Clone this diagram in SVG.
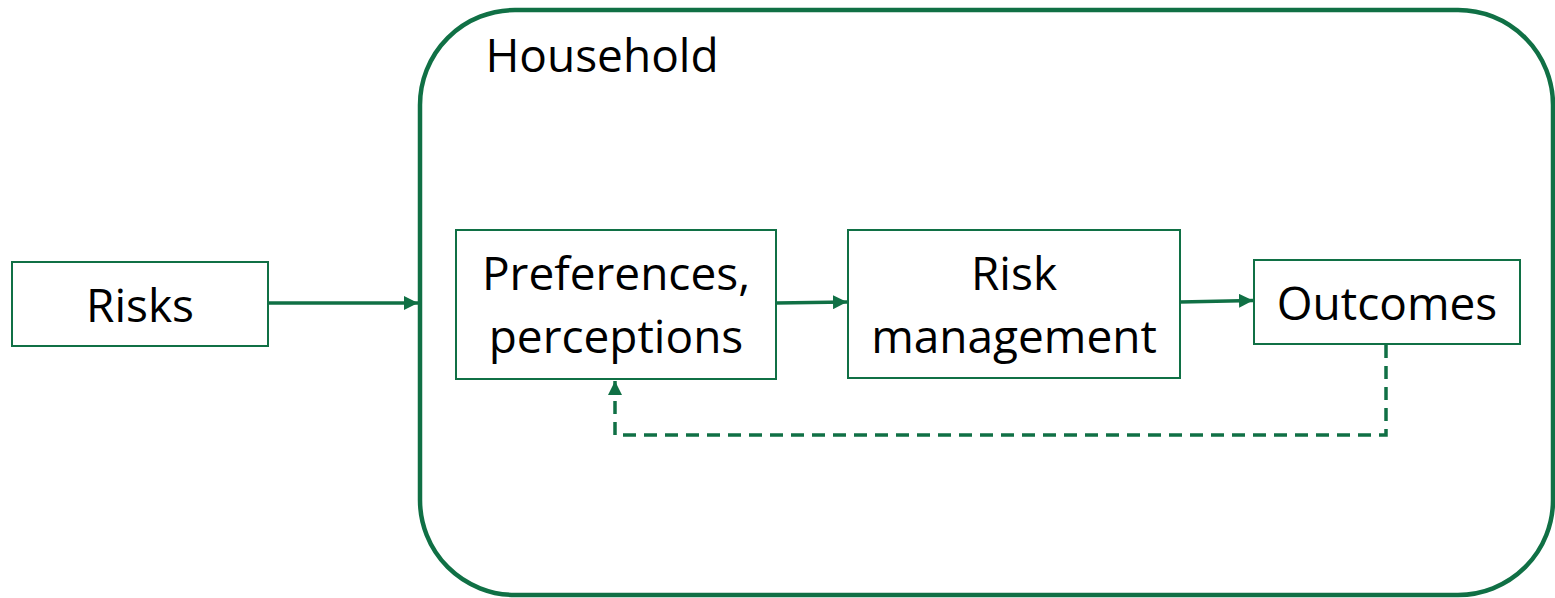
<svg xmlns="http://www.w3.org/2000/svg" width="1555" height="598" viewBox="0 0 1555 598">
  <style>
    .box { fill: #ffffff; stroke: #107045; stroke-width: 2; }
    .frame { fill: none; stroke: #107045; stroke-width: 4.5; }
    .edge { fill: none; stroke: #107045; stroke-width: 3.5; }
    .dash { fill: none; stroke: #107045; stroke-width: 3.5; stroke-dasharray: 13 8; }
    .label { font-family: "Open Sans", "Liberation Sans", sans-serif; font-size: 46px; fill: #000000; text-anchor: middle; }
  </style>
  <defs>
    <marker id="arrow" viewBox="0 0 10 10" refX="10" refY="5" markerWidth="14" markerHeight="14" markerUnits="userSpaceOnUse" orient="auto">
      <path d="M0,0 L10,5 L0,10 Z" fill="#107045"/>
    </marker>
  </defs>

  <!-- household frame -->
  <g id="household">
    <rect class="frame" x="420" y="10" width="1133" height="585" rx="95" ry="95"/>
    <text class="label" x="602" y="72">Household</text>
  </g>

  <g id="risks">
    <rect class="box" x="12" y="262" width="256" height="84"/>
    <text class="label" x="140" y="322">Risks</text>
  </g>

  <g id="preferences">
    <rect class="box" x="456" y="230" width="320" height="149"/>
    <text class="label" x="616" y="290">Preferences,</text>
    <text class="label" x="616" y="353">perceptions</text>
  </g>

  <g id="risk-management">
    <rect class="box" x="848" y="230" width="332" height="148"/>
    <text class="label" x="1014" y="290">Risk</text>
    <text class="label" x="1014" y="353">management</text>
  </g>

  <g id="outcomes">
    <rect class="box" x="1254" y="260" width="266" height="84"/>
    <text class="label" x="1387" y="320">Outcomes</text>
  </g>

  <!-- connectors -->
  <g id="connectors">
    <line class="edge" x1="268" y1="303" x2="418" y2="303" marker-end="url(#arrow)"/>
    <line class="edge" x1="776" y1="303" x2="847" y2="302" marker-end="url(#arrow)"/>
    <line class="edge" x1="1180" y1="302" x2="1253" y2="300.5" marker-end="url(#arrow)"/>
    <polyline class="dash" points="1386,345 1386,435 615,435 615,381" marker-end="url(#arrow)"/>
  </g>
</svg>
